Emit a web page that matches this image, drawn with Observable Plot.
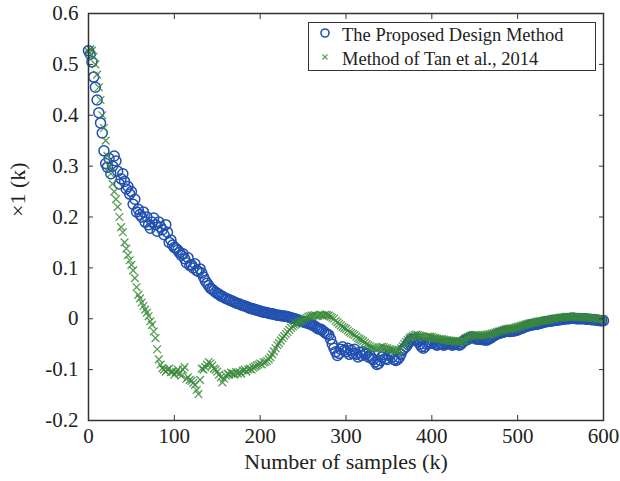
<!DOCTYPE html>
<html>
<head>
<meta charset="utf-8">
<script src="https://cdn.jsdelivr.net/npm/d3@7"></script>
<script src="https://cdn.jsdelivr.net/npm/@observablehq/plot@0.6"></script>
<style>
  html, body { margin: 0; padding: 0; background: #fff; }
  #wrap { position: relative; width: 620px; height: 481px; }
  #legend {
    position: absolute; left: 308px; top: 22px; width: 286px; height: 47px;
    border: 1.5px solid #333; background: #fff;
    font-family: "Liberation Serif", "Times New Roman", serif; font-size: 18.5px; color: #222;
  }
  .li { position: absolute; left: 0; height: 24px; line-height: 24px; white-space: nowrap; }
  .li svg { position: absolute; left: 6px; top: 0px; }
  .li span { position: absolute; left: 33px; }
</style>
</head>
<body>
<div id="wrap">
  <div id="chart"></div>
  <div id="legend">
    <div class="li" style="top:0px"><svg width="20" height="20"><circle cx="10" cy="10" r="4" fill="none" stroke="#2150b0" stroke-width="1.6"/></svg><span>The Proposed Design Method</span></div>
    <div class="li" style="top:24px"><svg width="20" height="20"><path d="M7.5,7.5L12.5,12.5M12.5,7.5L7.5,12.5" stroke="#5a9e5a" stroke-width="1.2"/></svg><span>Method of Tan et al., 2014</span></div>
  </div>
</div>
<script>
// Sample index: every 2nd sample from 0 to 600
const sampleStep = 2;
const samples = d3.range(0, 601, sampleStep);

// The Proposed Design Method (blue circles), k = 0, 2, ..., 600
const proposed = [
  0.527, 0.52, 0.505, 0.475, 0.455, 0.43, 0.405, 0.385, 0.365, 0.33,
  0.305, 0.298, 0.315, 0.285, 0.30, 0.32, 0.31, 0.29, 0.265, 0.275,
  0.285, 0.27, 0.255, 0.26, 0.245, 0.25, 0.225, 0.235, 0.21, 0.215,
  0.205, 0.20, 0.21, 0.19, 0.20, 0.185, 0.178, 0.19, 0.198, 0.185,
  0.172, 0.19, 0.18, 0.175, 0.165, 0.185, 0.17, 0.15, 0.155, 0.145,
  0.14, 0.138, 0.135, 0.13, 0.125, 0.128, 0.118, 0.11, 0.12, 0.105,
  0.106, 0.10, 0.108, 0.095, 0.093, 0.098, 0.09, 0.082, 0.075, 0.07,
  0.065, 0.06, 0.058, 0.055, 0.052, 0.05, 0.048, 0.045, 0.044, 0.042,
  0.04, 0.039, 0.037, 0.036, 0.034, 0.033, 0.031, 0.03, 0.029, 0.027,
  0.026, 0.025, 0.024, 0.022, 0.021, 0.02, 0.019, 0.018, 0.017, 0.016,
  0.015, 0.014, 0.013, 0.013, 0.012, 0.011, 0.01, 0.01, 0.009, 0.008,
  0.007, 0.007, 0.006, 0.006, 0.005, 0.005, 0.004, 0.003, 0.002, 0.001,
  0.0, -0.001, -0.002, -0.004, -0.005, -0.006, -0.007, -0.008, -0.009, -0.01,
  -0.012, -0.013, -0.015, -0.018, -0.02, -0.02, -0.022, -0.025, -0.028, -0.03,
  -0.032, -0.04, -0.05, -0.058, -0.065, -0.072, -0.068, -0.06, -0.055, -0.062,
  -0.065, -0.058, -0.07, -0.062, -0.068, -0.06, -0.07, -0.075, -0.066, -0.072,
  -0.065, -0.07, -0.068, -0.075, -0.072, -0.078, -0.08, -0.085, -0.09, -0.088,
  -0.082, -0.075, -0.07, -0.078, -0.08, -0.072, -0.07, -0.075, -0.08, -0.082,
  -0.08, -0.076, -0.07, -0.062, -0.058, -0.055, -0.05, -0.045, -0.04, -0.042,
  -0.04, -0.042, -0.045, -0.05, -0.055, -0.058, -0.055, -0.05, -0.048, -0.046,
  -0.048, -0.046, -0.05, -0.052, -0.05, -0.048, -0.05, -0.052, -0.05, -0.048,
  -0.048, -0.05, -0.052, -0.05, -0.048, -0.05, -0.052, -0.05, -0.046, -0.042,
  -0.042, -0.04, -0.038, -0.036, -0.036, -0.038, -0.04, -0.04, -0.04, -0.041,
  -0.04, -0.042, -0.042, -0.04, -0.038, -0.036, -0.034, -0.032, -0.03, -0.029,
  -0.028, -0.027, -0.026, -0.025, -0.024, -0.025, -0.025, -0.024, -0.024, -0.023,
  -0.022, -0.02, -0.019, -0.018, -0.016, -0.015, -0.014, -0.013, -0.012, -0.012,
  -0.011, -0.011, -0.01, -0.009, -0.008, -0.007, -0.006, -0.006, -0.005, -0.005,
  -0.004, -0.004, -0.003, -0.003, -0.002, -0.002, -0.001, -0.001, 0.0, 0.0,
  0.0, 0.001, 0.001, 0.001, 0.0, 0.0, 0.0, 0.0, 0.0, 0.0,
  -0.001, -0.001, -0.001, -0.002, -0.002, -0.002, -0.003, -0.003, -0.004, -0.004,
  -0.004
];

// Method of Tan et al., 2014 (green crosses), k = 0, 2, ..., 600
const tan2014 = [
  0.525, 0.53, 0.527, 0.515, 0.50, 0.48, 0.455, 0.43, 0.40, 0.375,
  0.35, 0.32, 0.30, 0.285, 0.265, 0.25, 0.235, 0.22, 0.20, 0.18,
  0.17, 0.15, 0.138, 0.125, 0.115, 0.106, 0.095, 0.08, 0.062, 0.047,
  0.04, 0.032, 0.025, 0.018, 0.012, 0.005, -0.005, -0.012, -0.025, -0.038,
  -0.06, -0.08, -0.09, -0.097, -0.10, -0.104, -0.10, -0.098, -0.105, -0.104,
  -0.11, -0.105, -0.10, -0.108, -0.112, -0.10, -0.095, -0.118, -0.115, -0.12,
  -0.122, -0.126, -0.13, -0.14, -0.148, -0.12, -0.098, -0.10, -0.095, -0.09,
  -0.085, -0.088, -0.092, -0.098, -0.10, -0.104, -0.11, -0.115, -0.125, -0.118,
  -0.112, -0.108, -0.11, -0.106, -0.108, -0.11, -0.105, -0.108, -0.105, -0.108,
  -0.102, -0.10, -0.104, -0.10, -0.098, -0.10, -0.096, -0.094, -0.092, -0.09,
  -0.088, -0.09, -0.086, -0.085, -0.083, -0.08, -0.076, -0.07, -0.064, -0.058,
  -0.052, -0.048, -0.043, -0.038, -0.034, -0.03, -0.026, -0.022, -0.018, -0.015,
  -0.012, -0.01, -0.008, -0.006, -0.004, -0.002, 0.0, 0.002, 0.004, 0.005,
  0.006, 0.006, 0.007, 0.005, 0.006, 0.008, 0.007, 0.006, 0.008, 0.007,
  0.006, 0.004, 0.002, 0.0, -0.004, -0.007, -0.01, -0.013, -0.016, -0.018,
  -0.02, -0.023, -0.026, -0.028, -0.03, -0.032, -0.035, -0.038, -0.04, -0.042,
  -0.044, -0.047, -0.05, -0.052, -0.054, -0.056, -0.058, -0.059, -0.06, -0.058,
  -0.056, -0.055, -0.056, -0.058, -0.058, -0.06, -0.06, -0.061, -0.062, -0.063,
  -0.064, -0.062, -0.058, -0.054, -0.05, -0.046, -0.042, -0.038, -0.036, -0.034,
  -0.032, -0.031, -0.032, -0.033, -0.034, -0.035, -0.036, -0.036, -0.035, -0.035,
  -0.036, -0.037, -0.038, -0.039, -0.04, -0.04, -0.04, -0.041, -0.042, -0.042,
  -0.043, -0.043, -0.044, -0.044, -0.045, -0.045, -0.045, -0.044, -0.043, -0.042,
  -0.038, -0.036, -0.034, -0.033, -0.032, -0.032, -0.032, -0.033, -0.033, -0.033,
  -0.032, -0.032, -0.031, -0.031, -0.03, -0.029, -0.028, -0.027, -0.026, -0.025,
  -0.024, -0.023, -0.022, -0.021, -0.02, -0.02, -0.019, -0.019, -0.018, -0.017,
  -0.016, -0.015, -0.014, -0.013, -0.012, -0.011, -0.01, -0.009, -0.008, -0.008,
  -0.007, -0.006, -0.005, -0.005, -0.004, -0.004, -0.003, -0.003, -0.002, -0.002,
  0.0, 0.0, 0.001, 0.001, 0.002, 0.002, 0.003, 0.003, 0.004, 0.004,
  0.004, 0.004, 0.004, 0.004, 0.004, 0.004, 0.003, 0.003, 0.003, 0.003,
  0.002, 0.002, 0.002, 0.002, 0.001, 0.001, 0.0, 0.0, 0.0, 0.0,
  -0.001
];

const xTicks = [0, 100, 200, 300, 400, 500, 600];
const yTicks = [-0.2, -0.1, 0, 0.1, 0.2, 0.3, 0.4, 0.5, 0.6];
const xLabel = "Number of samples (k)";
const yLabel = "×1 (k)";

const blueData = samples.map((k, i) => ({k, v: proposed[i]})).filter(d => d.v !== undefined);
const greenData = samples.map((k, i) => ({k, v: tan2014[i]})).filter(d => d.v !== undefined);

const fmt = d => String(Math.round(d * 10) / 10);

const chart = Plot.plot({
  width: 620,
  height: 481,
  marginLeft: 88,
  marginRight: 17,
  marginTop: 13,
  marginBottom: 61,
  x: {domain: [0, 600]},
  y: {domain: [-0.2, 0.6]},
  style: {fontFamily: "'Liberation Serif', 'Times New Roman', serif", fontSize: "21px", color: "#222", background: "#fff"},
  marks: [
    Plot.dot(blueData, {x: "k", y: "v", r: 5, stroke: "#2150b0", fill: "none", strokeWidth: 1.5}),
    Plot.dot(greenData, {x: "k", y: "v", symbol: "times", r: 3.6, stroke: "#3a8a3a", strokeOpacity: 0.85, strokeWidth: 1.3}),
    Plot.frame({stroke: "#333", strokeWidth: 1.5}),
    Plot.axisX(xTicks, {anchor: "bottom", tickSize: -5, tickFormat: () => "", label: null, stroke: "#333"}),
    Plot.axisX(xTicks, {anchor: "top", tickSize: -5, tickFormat: () => "", label: null, stroke: "#333"}),
    Plot.axisY(yTicks, {anchor: "left", tickSize: -5, tickFormat: () => "", label: null, stroke: "#333"}),
    Plot.axisY(yTicks, {anchor: "right", tickSize: -5, tickFormat: () => "", label: null, stroke: "#333"}),
    Plot.axisX(xTicks, {anchor: "bottom", tickSize: 0, tickPadding: 8, tickFormat: fmt, label: null, fill: "#222", fontSize: 21}),
    Plot.axisY(yTicks, {anchor: "left", tickSize: 0, tickPadding: 10, tickFormat: fmt, label: null, fill: "#222", fontSize: 21}),
    Plot.text([xLabel], {frameAnchor: "bottom", dy: 48, fontSize: 22, fill: "#222"}),
    Plot.text([yLabel], {frameAnchor: "left", dx: -71, rotate: -90, fontSize: 22, fill: "#222"})
  ]
});
document.getElementById("chart").appendChild(chart);
</script>
</body>
</html>
